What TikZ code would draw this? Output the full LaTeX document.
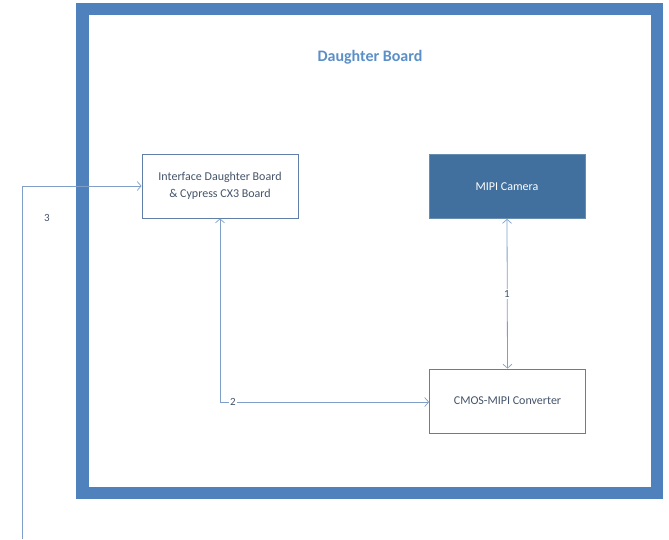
\documentclass[tikz,border=0pt]{standalone}
\usepackage{fontspec}
\setmainfont{Carlito}
\usetikzlibrary{arrows.meta}
\definecolor{frameblue}{HTML}{4F81BD}
\definecolor{camblue}{HTML}{41709E}
\definecolor{linkblue}{HTML}{7F9FC9}
\definecolor{boxline}{HTML}{5F7FA8}
\definecolor{txt}{HTML}{44546A}
\definecolor{titleblue}{HTML}{5B8FC7}
\tikzset{
  blockbox/.style={draw=boxline, line width=0.8pt, fill=white, minimum width=156pt, minimum height=64pt, inner sep=0pt, align=center, font=\fontsize{12}{16.5}\selectfont, text=txt},
  cambox/.style={blockbox, draw=camblue!80!white, fill=camblue, text=white},
  link/.style={draw=linkblue, line width=0.8pt, >={Straight Barb[length=4pt,width=9pt,line width=0.7pt]}},
  lbl/.style={font=\fontsize{11}{12}\selectfont, text=txt, fill=white, inner sep=1pt}
}
\begin{document}
\begin{tikzpicture}[x=1pt,y=-1pt]
\useasboundingbox (0,0) rectangle (669,539);
% outer frame
\draw[frameblue, line width=12.5pt] (82.5,9) rectangle (657,493);
\node[font=\fontsize{16}{18}\selectfont\bfseries, text=titleblue] (title) at (370,57) {Daughter Board};
% blocks
\node[blockbox] (iface) at (220,186) {Interface Daughter Board\\\& Cypress CX3 Board};
\node[cambox] (cam) at (507,186.5) {MIPI Camera};
\node[blockbox] (cmos) at (507.5,401) {CMOS-MIPI Converter};
% link 1
\draw[link, <->] (cam.south) -- (cmos.north);
\node[lbl] (l1) at (507,294) {1};
% link 2
\coordinate (c2) at (220,402);
\draw[link, <->] (iface.south) -- (c2) -- (cmos.west |- c2);
\node[lbl] (l2) at (233,402) {2};
% link 3
\coordinate (s3) at (22,539);
\coordinate (k3) at (22,186);
\draw[link, ->] (s3) -- (k3) -- (iface.west |- k3);
\node[font=\fontsize{11}{12}\selectfont, text=txt] (l3) at (47,218) {3};
\end{tikzpicture}
\end{document}
